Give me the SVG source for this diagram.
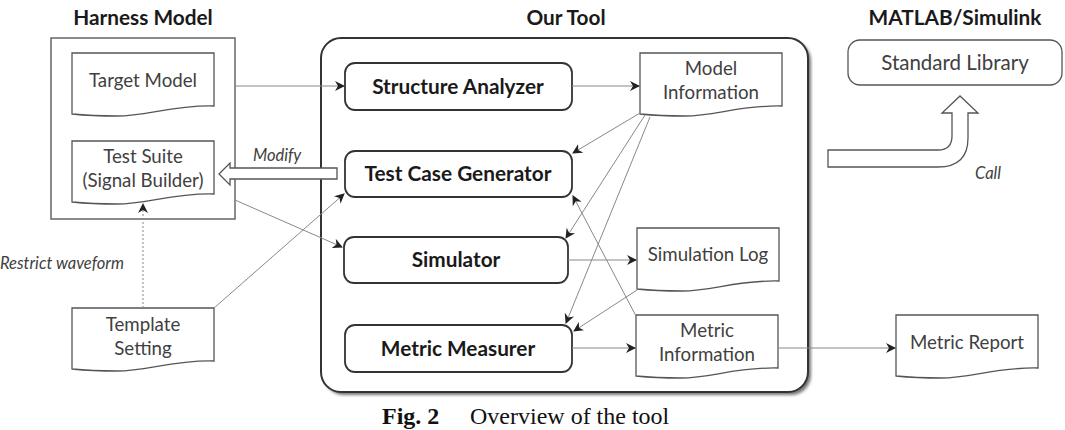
<svg xmlns="http://www.w3.org/2000/svg" width="1065" height="430" viewBox="0 0 1065 430">
<style>
.title{font-family:Lato,"Open Sans",sans-serif;font-weight:bold;font-size:20.8px;fill:#1a1a1a;text-anchor:middle}
.proc{font-family:Lato,"Open Sans",sans-serif;font-weight:bold;font-size:20.8px;fill:#1a1a1a;text-anchor:middle}
.doct{font-family:Lato,"Open Sans",sans-serif;font-size:18.7px;fill:#404040;text-anchor:middle}
.lbl{font-family:Lato,"Open Sans",sans-serif;font-style:italic;font-size:16.5px;fill:#404040}
.doc{fill:#fff;stroke:#555;stroke-width:1.3}
.pbox{fill:#fff;stroke:#333;stroke-width:1.8}
.conn{fill:none;stroke:#888;stroke-width:1}
.cap{font-family:"Liberation Serif",serif;font-size:24px;fill:#111}
</style>
<defs>
<path id="docshape" d="M0,0 H142 V53 C100,52 75,63 45,63 C25,63 10,62 0,61 Z"/>
<marker id="arr" viewBox="0 0 10 10" refX="9" refY="5" markerWidth="10" markerHeight="10" markerUnits="userSpaceOnUse" orient="auto">
<path d="M0,0 L10,5 L0,10 L3,5 Z" fill="#222"/>
</marker>
<filter id="sh" x="-5%" y="-5%" width="115%" height="115%">
<feGaussianBlur stdDeviation="1.5"/>
</filter>
</defs>

<g id="titles">
<text class="title" x="143" y="25">Harness Model</text>
<text class="title" x="566" y="25">Our Tool</text>
<text class="title" x="955" y="25">MATLAB/Simulink</text>
</g>

<g id="harness">
<rect x="51" y="38" width="184" height="181" fill="#fff" stroke="#666" stroke-width="1.5"/>
</g>

<g id="ourtool">
<rect x="324" y="41" width="487" height="354" rx="20" fill="#777" filter="url(#sh)"/>
<rect x="321" y="38" width="487" height="354" rx="20" fill="#fff" stroke="#333" stroke-width="2"/>
</g>

<g id="target-model">
<use href="#docshape" x="72" y="53" class="doc"/>
<text class="doct" x="143" y="87">Target Model</text>
</g>

<g id="test-suite">
<use href="#docshape" x="72" y="141" class="doc"/>
<text class="doct" x="143" y="163">Test Suite</text>
<text class="doct" x="143" y="187">(Signal Builder)</text>
</g>

<g id="template-setting">
<use href="#docshape" x="72" y="308" class="doc"/>
<text class="doct" x="143" y="331">Template</text>
<text class="doct" x="143" y="355">Setting</text>
</g>

<g id="structure-analyzer">
<rect class="pbox" x="345" y="63" width="227" height="47" rx="10"/>
<text class="proc" x="458" y="94">Structure Analyzer</text>
</g>

<g id="test-case-generator">
<rect class="pbox" x="345" y="151" width="227" height="46" rx="10"/>
<text class="proc" x="458" y="181">Test Case Generator</text>
</g>

<g id="simulator">
<rect class="pbox" x="344" y="237" width="224" height="46" rx="10"/>
<text class="proc" x="456" y="267">Simulator</text>
</g>

<g id="metric-measurer">
<rect class="pbox" x="345" y="325" width="227" height="47" rx="10"/>
<text class="proc" x="458" y="356">Metric Measurer</text>
</g>

<g id="model-information">
<use href="#docshape" x="640" y="53" class="doc"/>
<text class="doct" x="711" y="75">Model</text>
<text class="doct" x="711" y="99">Information</text>
</g>

<g id="simulation-log">
<use href="#docshape" x="637" y="228" class="doc"/>
<text class="doct" x="708" y="261">Simulation Log</text>
</g>

<g id="metric-information">
<use href="#docshape" x="636" y="315" class="doc"/>
<text class="doct" x="707" y="337">Metric</text>
<text class="doct" x="707" y="361">Information</text>
</g>

<g id="metric-report">
<use href="#docshape" x="896" y="315" class="doc"/>
<text class="doct" x="967" y="349">Metric Report</text>
</g>

<g id="standard-library">
<rect x="848" y="40" width="214" height="45" rx="12" fill="#fff" stroke="#555" stroke-width="1.3"/>
<text class="doct" x="955" y="70" style="font-size:20.5px">Standard Library</text>
</g>

<g id="connectors">
<path class="conn" d="M235,86 H344" marker-end="url(#arr)"/>
<path class="conn" d="M572,86 H639" marker-end="url(#arr)"/>
<path class="conn" d="M640,113 L573,153" marker-end="url(#arr)"/>
<path class="conn" d="M645,115 L566,238" marker-end="url(#arr)"/>
<path class="conn" d="M650,117 L566,323" marker-end="url(#arr)"/>
<path class="conn" d="M637,290 L574,331" marker-end="url(#arr)"/>
<path class="conn" d="M636,316 L573,196" marker-end="url(#arr)"/>
<path class="conn" d="M568,260 H636" marker-end="url(#arr)"/>
<path class="conn" d="M572,348 H635" marker-end="url(#arr)"/>
<path class="conn" d="M778,348 H895" marker-end="url(#arr)"/>
<path class="conn" d="M235,200 L342,247" marker-end="url(#arr)"/>
<path class="conn" d="M214,308 L344,194" marker-end="url(#arr)"/>
<path class="conn" d="M143,308 V204" stroke-dasharray="2,2" marker-end="url(#arr)"/>
<path d="M337,168 H230 V163 L219,174 L230,185 V179 H337 Z" fill="#fff" stroke="#555" stroke-width="1.3"/>
<path d="M828,150 H938 Q952,150 952,136 V113 H942 L960,96 L978,113 H968 V138 Q968,167 938,167 H828 Z" fill="#fff" stroke="#555" stroke-width="1.3"/>
<text class="lbl" x="253" y="161">Modify</text>
<text class="lbl" x="0" y="269">Restrict waveform</text>
<text class="lbl" x="975" y="179">Call</text>
</g>

<g id="caption">
<text class="cap" x="382" y="424"><tspan font-weight="bold">Fig. 2</tspan><tspan x="470">Overview of the tool</tspan></text>
</g>
</svg>
